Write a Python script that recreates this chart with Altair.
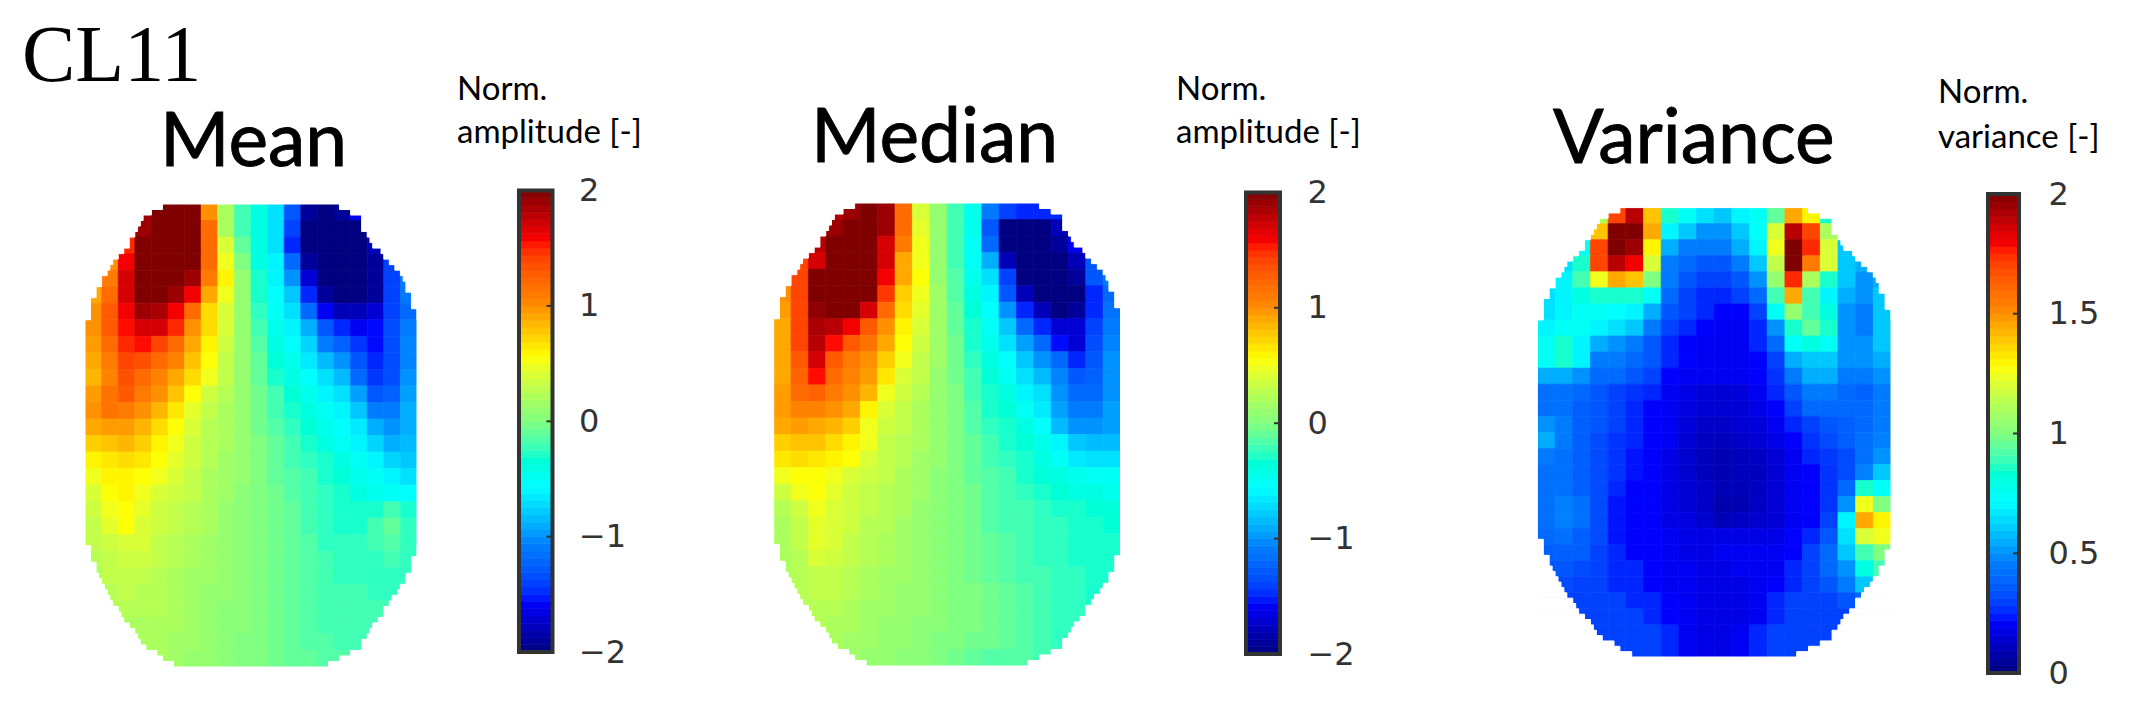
import altair as alt
import pandas as pd

MEAN = [
[2,2,2,1.9,2,2,2,1.0,.2,-.2,-.4,-.7,-1.3,-1.9,-2,-1.9,-1.6,-1.6,-1.5,-1.5],
[1.5,1.5,1.6,1.9,2,2,2,1.2,.2,-.2,-.4,-.7,-1.4,-2,-2,-2,-2,-1.7,-1.5,-1.5],
[1.2,1.2,1.5,2,2,2,2,1.2,.4,-.1,-.4,-.7,-1.5,-2,-2,-2,-2,-1.8,-1.5,-1.3],
[1.0,1.0,1.6,2,2,2,2,1.2,.5,0,-.4,-.6,-1.2,-1.9,-2,-2,-2,-1.9,-1.4,-1.2],
[1.0,1.1,1.7,2,2,2,1.9,1.1,.6,.1,-.3,-.6,-1.0,-1.7,-2,-2,-2,-1.9,-1.4,-1.1],
[.9,1.2,1.7,2,2,1.9,1.6,.9,.5,.1,-.3,-.55,-.8,-1.5,-1.9,-2,-2,-1.9,-1.4,-1.1],
[1.0,1.3,1.6,1.9,1.85,1.6,1.2,.7,.4,.1,-.25,-.5,-.7,-1.2,-1.6,-1.8,-1.8,-1.7,-1.4,-1.2],
[1.0,1.3,1.55,1.7,1.7,1.5,1.0,.7,.4,.1,-.2,-.45,-.6,-.9,-1.3,-1.5,-1.6,-1.55,-1.35,-1.1],
[.95,1.2,1.5,1.55,1.4,1.2,.9,.6,.35,.1,-.15,-.4,-.55,-.75,-1.1,-1.25,-1.45,-1.55,-1.35,-1.05],
[.9,1.1,1.4,1.35,1.2,1.05,.8,.55,.3,.1,-.1,-.35,-.45,-.65,-.85,-1.0,-1.3,-1.5,-1.35,-1.05],
[.85,1.05,1.35,1.2,1.05,.9,.7,.5,.3,.1,-.1,-.3,-.4,-.55,-.7,-.85,-1.2,-1.45,-1.35,-1.0],
[.95,1.15,1.3,1.1,1.0,.8,.55,.35,.25,.1,-.05,-.2,-.35,-.45,-.6,-.7,-.95,-1.3,-1.25,-.95],
[1.0,1.15,1.1,1.0,.85,.65,.45,.3,.2,.1,-.05,-.2,-.3,-.4,-.5,-.6,-.8,-1.1,-1.1,-.9],
[.9,.95,.95,.85,.7,.55,.4,.25,.2,.1,-.05,-.15,-.25,-.35,-.45,-.55,-.65,-.9,-1.0,-.9],
[.75,.8,.85,.75,.6,.5,.35,.25,.2,.1,0,-.1,-.2,-.3,-.4,-.5,-.6,-.75,-.9,-.85],
[.6,.65,.7,.65,.55,.45,.35,.25,.15,.1,0,-.1,-.2,-.25,-.3,-.4,-.5,-.6,-.75,-.8],
[.5,.6,.6,.55,.5,.4,.3,.2,.15,.1,0,-.1,-.15,-.2,-.3,-.35,-.45,-.5,-.6,-.7],
[.4,.55,.6,.5,.4,.35,.3,.2,.15,.05,0,-.05,-.15,-.2,-.25,-.3,-.4,-.45,-.5,-.55],
[.35,.5,.55,.45,.35,.3,.25,.2,.1,.05,0,-.05,-.1,-.2,-.25,-.3,-.3,-.3,-.2,-.3],
[.3,.45,.55,.4,.35,.3,.25,.2,.1,.05,0,-.05,-.1,-.2,-.25,-.3,-.3,-.2,-.1,-.25],
[.3,.35,.4,.4,.3,.25,.2,.15,.1,.05,0,-.05,-.1,-.15,-.25,-.25,-.25,-.2,-.15,-.25],
[.25,.3,.35,.35,.3,.25,.2,.15,.1,.05,0,-.05,-.1,-.15,-.2,-.25,-.25,-.25,-.2,-.25],
[.2,.3,.3,.3,.25,.2,.15,.15,.1,.05,0,-.05,-.1,-.15,-.2,-.25,-.25,-.25,-.25,-.25],
[.2,.25,.3,.25,.25,.2,.15,.1,.1,.05,0,-.05,-.1,-.15,-.2,-.2,-.2,-.25,-.25,-.25],
[.2,.25,.25,.25,.25,.2,.15,.1,.05,.05,0,-.05,-.1,-.15,-.2,-.2,-.2,-.2,-.2,-.2],
[.2,.2,.2,.2,.2,.2,.15,.1,.05,.05,0,-.05,-.1,-.15,-.2,-.2,-.2,-.2,-.2,-.2],
[.2,.2,.2,.2,.2,.15,.15,.1,.05,0,0,-.05,-.1,-.15,-.15,-.2,-.2,-.2,-.2,-.2],
[.2,.2,.2,.2,.2,.15,.1,.1,.05,0,0,-.05,-.1,-.1,-.15,-.15,-.2,-.2,-.2,-.2],
]

MEDIAN = [
[1.6,1.6,1.7,1.8,1.9,2,1.9,1.2,.4,.1,-.2,-.45,-1.1,-1.4,-1.5,-1.5,-1.5,-1.5,-1.4,-1.3],
[1.5,1.6,1.7,1.9,2,2,1.9,1.2,.45,.1,-.2,-.45,-1.3,-2,-2,-2,-1.8,-1.5,-1.4,-1.3],
[1.4,1.6,1.8,2,2,2,1.7,1.1,.5,.1,-.2,-.5,-1.2,-2,-2,-2,-1.9,-1.6,-1.4,-1.2],
[1.3,1.4,1.7,2,2,2,1.7,.9,.5,.1,-.2,-.5,-.9,-1.8,-2,-2,-2,-1.8,-1.3,-1.2],
[1.2,1.4,2,2,2,2,1.6,.9,.55,.1,-.15,-.45,-.7,-1.4,-2,-2,-2,-1.9,-1.3,-1.1],
[1.0,1.4,2,2,2,2,1.45,.75,.5,.15,-.15,-.4,-.6,-1.3,-1.8,-2,-2,-2,-1.5,-1.2],
[.95,1.4,1.95,2,2,1.7,1.2,.7,.45,.15,-.1,-.35,-.55,-1.0,-1.5,-1.8,-2,-1.9,-1.5,-1.15],
[.9,1.4,1.85,1.8,1.6,1.3,1.0,.6,.4,.15,-.1,-.3,-.5,-.8,-1.2,-1.5,-1.7,-1.7,-1.4,-1.1],
[.9,1.4,1.8,1.55,1.3,1.15,.9,.55,.35,.15,-.05,-.3,-.45,-.7,-.95,-1.2,-1.55,-1.7,-1.35,-1.05],
[.9,1.3,1.7,1.3,1.1,1.0,.75,.5,.3,.15,-.05,-.25,-.4,-.55,-.8,-1.0,-1.2,-1.5,-1.3,-1.0],
[.9,1.25,1.55,1.2,1.05,.95,.65,.4,.3,.1,-.05,-.2,-.35,-.5,-.7,-.85,-1.05,-1.3,-1.25,-1.0],
[.95,1.2,1.25,1.1,1.0,.85,.5,.35,.25,.1,0,-.2,-.3,-.4,-.6,-.7,-1.0,-1.2,-1.2,-1.0],
[.95,1.05,1.05,1.0,.9,.6,.4,.3,.2,.1,0,-.15,-.3,-.35,-.5,-.65,-.95,-1.1,-1.1,-.95],
[.9,.95,.9,.85,.75,.5,.35,.3,.2,.1,0,-.15,-.25,-.3,-.4,-.55,-.85,-1.0,-1.0,-.95],
[.75,.8,.8,.7,.6,.5,.3,.25,.2,.1,0,-.1,-.2,-.3,-.35,-.45,-.6,-.8,-.85,-.85],
[.65,.7,.65,.6,.55,.4,.3,.25,.15,.1,0,-.1,-.2,-.25,-.3,-.4,-.5,-.65,-.7,-.7],
[.5,.55,.55,.5,.4,.35,.3,.2,.15,.05,0,-.1,-.15,-.2,-.3,-.35,-.4,-.45,-.5,-.5],
[.35,.5,.55,.45,.35,.3,.25,.2,.15,.05,0,-.05,-.15,-.2,-.25,-.3,-.35,-.4,-.4,-.45],
[.25,.35,.5,.4,.35,.3,.25,.2,.1,.05,0,-.05,-.15,-.2,-.2,-.25,-.3,-.3,-.35,-.35],
[.2,.3,.45,.4,.35,.25,.25,.15,.1,.05,0,-.05,-.15,-.2,-.2,-.25,-.25,-.3,-.3,-.35],
[.2,.3,.45,.4,.3,.25,.2,.15,.1,.05,0,-.05,-.1,-.15,-.2,-.25,-.25,-.3,-.3,-.3],
[.2,.25,.4,.35,.3,.25,.2,.15,.1,.05,0,-.05,-.1,-.15,-.2,-.25,-.25,-.3,-.3,-.3],
[.2,.25,.3,.3,.25,.2,.15,.15,.1,.05,0,-.05,-.1,-.15,-.2,-.2,-.25,-.25,-.3,-.3],
[.2,.25,.3,.3,.25,.2,.15,.1,.1,.05,0,0,-.05,-.1,-.15,-.2,-.25,-.25,-.3,-.3],
[.2,.25,.25,.25,.2,.15,.15,.1,.1,.05,0,0,-.05,-.1,-.15,-.2,-.25,-.25,-.3,-.3],
[.2,.2,.25,.2,.2,.15,.1,.1,.05,.05,0,0,-.05,-.1,-.15,-.2,-.25,-.25,-.3,-.3],
[.2,.2,.2,.2,.15,.15,.1,.1,.05,0,0,-.05,-.05,-.1,-.15,-.2,-.25,-.25,-.25,-.25],
[.2,.2,.2,.15,.15,.1,.1,.05,.05,0,-.05,-.1,-.15,-.15,-.15,-.2,-.2,-.2,-.2,-.2],
]

VARIANCE = [
[.7,.7,.8,1.1,1.7,1.9,1.4,.85,.75,.65,.6,.7,.75,.95,1.45,1.3,.85,.7,.65,.6],
[.65,.65,.7,1.4,2,2,1.45,.7,.6,.5,.5,.6,.75,1.2,1.9,1.7,1.1,.65,.6,.6],
[.6,.6,.75,1.7,2,1.95,1.3,.55,.45,.45,.45,.55,.7,1.25,2.0,1.75,1.2,.6,.6,.6],
[.6,.65,.85,1.7,1.9,1.8,1.2,.45,.4,.35,.35,.45,.6,1.15,2.0,1.55,1.2,.6,.55,.55],
[.65,.7,.9,1.25,1.45,1.4,1.0,.45,.35,.3,.3,.35,.5,1.05,1.75,1.1,.85,.6,.5,.55],
[.65,.7,.8,.85,.85,.85,.75,.4,.3,.25,.25,.3,.4,.9,1.45,.9,.7,.55,.5,.6],
[.65,.7,.75,.75,.72,.7,.55,.35,.3,.25,.22,.22,.3,.75,1.05,.9,.8,.5,.45,.6],
[.7,.75,.75,.7,.65,.6,.45,.3,.25,.22,.2,.2,.25,.5,.85,.95,.85,.5,.45,.6],
[.75,.85,.7,.55,.5,.45,.35,.25,.22,.2,.2,.2,.25,.4,.75,.8,.75,.5,.5,.6],
[.75,.85,.7,.45,.45,.4,.35,.25,.22,.2,.2,.2,.22,.3,.55,.6,.6,.5,.5,.55],
[.55,.55,.5,.4,.4,.35,.3,.22,.2,.2,.2,.2,.22,.27,.45,.55,.55,.45,.45,.5],
[.42,.42,.4,.35,.3,.27,.25,.2,.18,.16,.15,.16,.2,.25,.35,.45,.45,.4,.38,.45],
[.42,.42,.37,.35,.3,.25,.22,.2,.17,.15,.15,.15,.18,.22,.3,.4,.4,.4,.4,.45],
[.5,.45,.37,.35,.3,.25,.22,.2,.16,.13,.13,.15,.16,.2,.25,.3,.35,.37,.4,.45],
[.55,.45,.37,.32,.27,.25,.22,.2,.15,.12,.11,.13,.15,.18,.22,.27,.32,.37,.42,.47],
[.45,.42,.37,.32,.27,.23,.22,.18,.14,.11,.09,.11,.12,.15,.2,.25,.28,.32,.42,.5],
[.42,.42,.37,.32,.27,.23,.22,.18,.14,.11,.09,.11,.11,.15,.2,.22,.27,.32,.47,.6],
[.42,.42,.37,.32,.25,.22,.22,.18,.15,.13,.1,.1,.12,.15,.2,.22,.27,.4,.85,.75],
[.42,.47,.42,.32,.23,.22,.22,.18,.15,.13,.08,.09,.12,.15,.2,.22,.27,.5,1.25,1.0],
[.42,.47,.42,.32,.23,.22,.22,.18,.17,.14,.1,.12,.14,.15,.2,.22,.3,.7,1.45,1.3],
[.4,.42,.37,.32,.23,.22,.22,.2,.18,.18,.18,.18,.18,.18,.22,.25,.35,.65,1.2,1.25],
[.37,.37,.37,.3,.25,.22,.22,.2,.18,.18,.2,.2,.2,.2,.22,.3,.4,.6,.9,1.0],
[.35,.35,.32,.3,.25,.25,.22,.2,.2,.18,.18,.2,.2,.2,.25,.3,.4,.5,.8,.9],
[.32,.32,.3,.3,.25,.25,.22,.2,.2,.18,.18,.18,.2,.22,.25,.3,.35,.45,.6,.6],
[.3,.3,.3,.3,.3,.25,.25,.22,.2,.18,.18,.18,.2,.25,.3,.3,.3,.35,.4,.4],
[.3,.3,.3,.3,.3,.3,.25,.22,.2,.18,.18,.18,.2,.25,.3,.3,.3,.3,.3,.3],
[.3,.3,.3,.3,.3,.3,.3,.25,.2,.18,.18,.2,.25,.3,.3,.3,.3,.3,.3,.3],
[.3,.3,.3,.3,.3,.3,.3,.25,.2,.18,.18,.2,.25,.3,.3,.3,.3,.3,.3,.3],
]

# outline of the head shape: blank fine cells at each side, by fine row (60 x 84 grid)
TOP_L = [14,12,10.5,10,9.5,9,8,8,7,6,5,4.5,4,3,3,2,2,1,1,1,1]
TOP_R = [14,12,10,10,10,9,8.5,8,6.5,6,5,4,3,2.5,2,2,1,1,1,0,0]
BOT_L = [16,14,13,11,10,9.5,9,8,7,6.5,6,5,4.5,4,3.5,3,2.5,2,2,1,1,1]
BOT_R = [16,14,12,10,10,9,8.5,8,7,6,6,5,4.5,3.5,3,2,2,1,1,1,0,0]

JET = ['#000080','#0000ff','#0080ff','#00ffff','#80ff80','#ffff00','#ff8000','#ff0000','#800000']
JET_POS = [0,.11,.235,.36,.5,.64,.765,.89,1]
FONT_T = 'Lato'
DARK = '#333333'
H = 688


def color_scale(lo, hi):
    return alt.Scale(domain=[lo + p*(hi-lo) for p in JET_POS], range=JET, clamp=True)


def cells(matrix):
    rows = []
    for r, row in enumerate(matrix):
        assert len(row) == 20
        for c, v in enumerate(row):
            rows.append({'x0': c*3, 'x1': c*3+3, 'y0': r*3, 'y1': r*3+3, 'v': v})
    return pd.DataFrame(rows)


def mask():
    rows = []
    for side, top, bot in (('l', TOP_L, BOT_L), ('r', TOP_R, BOT_R)):
        for r, ins in enumerate(top):
            a, b = (-1, ins) if side == 'l' else (60-ins, 61)
            rows.append({'x0': a, 'x1': b, 'y0': r if r else -1, 'y1': r+1})
        for r, ins in enumerate(bot):
            a, b = (-1, ins) if side == 'l' else (60-ins, 61)
            rows.append({'x0': a, 'x1': b, 'y0': 83-r, 'y1': 84-r if r else 85})
    return pd.DataFrame(rows)


def edge_mask():
    # blanks the thin rim just outside the top, bottom, left and right of the map
    return pd.DataFrame({'x0': [-1, -1, -1, 60], 'x1': [61, 61, 0, 61],
                         'y0': [-1, 84, -1, -1], 'y1': [0, 85, 85, 85]})


def text(label, x, y, size, font=FONT_T, heavy=False):
    kw = dict(stroke='black', strokeWidth=0.9) if heavy else {}
    return alt.Chart(pd.DataFrame({'t': [label]})).mark_text(
        align='left', baseline='alphabetic', font=font, fontSize=size, color='black', **kw
    ).encode(text='t:N', x=alt.value(x), y=alt.value(y))


def heat_panel(matrix, lo, hi, width, xr, yr, texts):
    xs = alt.Scale(domain=[0, 60], range=xr)
    ys = alt.Scale(domain=[0, 84], range=yr)
    cs = color_scale(lo, hi)
    heat = alt.Chart(cells(matrix)).mark_rect(strokeWidth=0.7).encode(
        x=alt.X('x0:Q', scale=xs, axis=None), x2='x1:Q',
        y=alt.Y('y0:Q', scale=ys, axis=None), y2='y1:Q',
        color=alt.Color('v:Q', scale=cs, legend=None),
        stroke=alt.Stroke('v:Q', scale=cs, legend=None),
    )
    blank = alt.Chart(pd.concat([mask(), edge_mask()])).mark_rect(color='white', stroke='white', strokeWidth=1.0).encode(
        x=alt.X('x0:Q', scale=xs, axis=None), x2='x1:Q',
        y=alt.Y('y0:Q', scale=ys, axis=None), y2='y1:Q',
    )
    return alt.layer(heat, blank, *texts).properties(width=width, height=H)


def bar_panel(lo, hi, width, yr, ticks, pad):
    levels = 64
    step = (hi-lo)/levels
    df = pd.DataFrame({'y0': [lo+i*step for i in range(levels)],
                       'y1': [lo+(i+1)*step for i in range(levels)],
                       'v': [lo+(i+.5)*step for i in range(levels)]})
    ys = alt.Scale(domain=[lo, hi], range=yr)
    cs = color_scale(lo, hi)
    ax = alt.Axis(orient='right', values=ticks, ticks=False, domain=False, grid=False, title=None,
                  labelPadding=pad, labelFont='DejaVu Sans', labelFontSize=32, labelColor=DARK,
                  labelOverlap=False, labelBound=False, labelFlush=False, format='~g')
    bar = alt.Chart(df).mark_rect(strokeWidth=0.7).encode(
        x=alt.value(2), x2=alt.value(width-2),
        y=alt.Y('y0:Q', scale=ys, axis=ax),
        y2='y1:Q',
        color=alt.Color('v:Q', scale=cs, legend=None),
        stroke=alt.Stroke('v:Q', scale=cs, legend=None),
    )
    frame = alt.Chart(pd.DataFrame({'a': [lo], 'b': [hi]})).mark_rect(
        fillOpacity=0, stroke=DARK, strokeWidth=4
    ).encode(x=alt.value(2), x2=alt.value(width-2),
             y=alt.Y('a:Q', scale=ys, axis=ax), y2='b:Q')
    marks = alt.Chart(pd.DataFrame({'t': ticks[1:-1]})).mark_rule(color=DARK, strokeWidth=2).encode(
        x=alt.value(width-8), x2=alt.value(width-3), y=alt.Y('t:Q', scale=ys, axis=ax))
    return alt.layer(bar, frame, marks).properties(width=width, height=H)


p1 = heat_panel(MEAN, -2, 2, 508.5, [77, 409], [196, 659], [
    text('CL11', 14, 73, 80, font='Liberation Serif'),
    text('Mean', 152, 158, 75, heavy=True),
    text('Norm.', 449, 92, 33),
    text('amplitude [-]', 449, 135, 33),
])
p2 = bar_panel(-2, 2, 37.5, [644, 182.6], [-2, -1, 0, 1, 2], 24)
p3 = heat_panel(MEDIAN, -2, 2, 689, [218.7, 565.5], [195, 658], [
    text('Median', 256, 154, 75, heavy=True),
    text('Norm.', 621, 92, 33),
    text('amplitude [-]', 621, 135, 33),
])
p4 = bar_panel(-2, 2, 38, [646, 184.4], [-2, -1, 0, 1, 2], 25)
p5 = heat_panel(VARIANCE, 0, 2, 704, [255.4, 609], [199.6, 649], [
    text('Variance', 271, 155, 75, heavy=True),
    text('Norm.', 656, 95, 33),
    text('variance [-]', 656, 140, 33),
])
p6 = bar_panel(0, 2, 35, [665, 186], [0, .5, 1, 1.5, 2], 27)

chart = alt.hconcat(p1, p2, p3, p4, p5, p6, spacing=0, bounds='flush').resolve_scale(
    color='independent', stroke='independent'
).properties(padding=0, background='white').configure_view(stroke=None)

chart.save("out.html", embed_options={"renderer": "svg", "actions": False})
